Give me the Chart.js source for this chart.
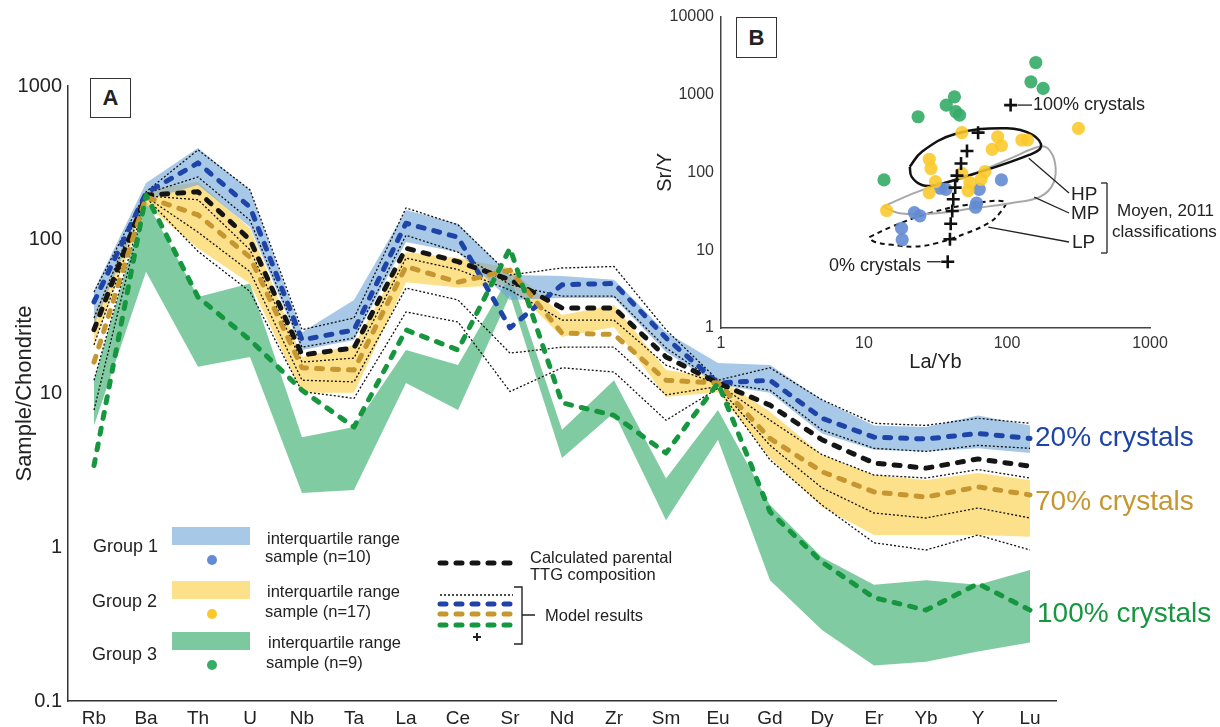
<!DOCTYPE html>
<html>
<head>
<meta charset="utf-8">
<title>Trace element patterns and Sr/Y vs La/Yb</title>
<script src="https://cdn.jsdelivr.net/npm/chart.js@4.4.1/dist/chart.umd.min.js"></script>
<style>
  body { margin: 0; background: #fff; }
  #wrap { position: relative; width: 1220px; height: 727px; overflow: hidden; font-family: "Liberation Sans", Arial, sans-serif; color: #222; }
  canvas { position: absolute; top: 0; }
  #main { left: 0; }
  #inset { left: 640px; }
  .lbl { position: absolute; white-space: nowrap; line-height: 1; transform: translateY(-50%); }
  .box { position: absolute; border: 1.5px solid #333; font-weight: bold; font-size: 22px; display: flex; align-items: center; justify-content: center; box-sizing: border-box; background: #fff; }
</style>
</head>
<body>
<div id="wrap">
  <canvas id="main" width="1220" height="727"></canvas>
  <canvas id="inset" width="580" height="380"></canvas>

  <div class="box" style="left:90px;top:78px;width:41px;height:40px;">A</div>
  <div class="box" style="left:736px;top:17px;width:41px;height:41px;">B</div>

  <div class="lbl" style="left:93px;top:546px;font-size:18px">Group 1</div>
  <div class="lbl" style="left:92px;top:601px;font-size:18px">Group 2</div>
  <div class="lbl" style="left:92px;top:654px;font-size:18px">Group 3</div>
  <div class="lbl" style="left:267px;top:538px;font-size:16.5px">interquartile range</div>
  <div class="lbl" style="left:265px;top:556px;font-size:16.5px">sample (n=10)</div>
  <div class="lbl" style="left:267px;top:591px;font-size:16.5px">interquartile range</div>
  <div class="lbl" style="left:265px;top:611px;font-size:16.5px">sample (n=17)</div>
  <div class="lbl" style="left:268px;top:642px;font-size:16.5px">interquartile range</div>
  <div class="lbl" style="left:266px;top:662px;font-size:16.5px">sample (n=9)</div>
  <div class="lbl" style="left:530px;top:557px;font-size:16.5px">Calculated parental</div>
  <div class="lbl" style="left:530px;top:574px;font-size:16.5px">TTG composition</div>
  <div class="lbl" style="left:545px;top:615px;font-size:16.5px">Model results</div>

  <div class="lbl" style="left:1035px;top:437px;font-size:28px;color:#1e44a8">20% crystals</div>
  <div class="lbl" style="left:1035px;top:501px;font-size:28px;color:#c69630">70% crystals</div>
  <div class="lbl" style="left:1037px;top:613px;font-size:28px;color:#16963f">100% crystals</div>

  <div class="lbl" style="left:1033px;top:104px;font-size:18px">100% crystals</div>
  <div class="lbl" style="left:829px;top:265px;font-size:18px">0% crystals</div>
  <div class="lbl" style="left:1071px;top:193px;font-size:19px">HP</div>
  <div class="lbl" style="left:1071px;top:212px;font-size:19px">MP</div>
  <div class="lbl" style="left:1072px;top:241px;font-size:19px">LP</div>
  <div class="lbl" style="left:1117px;top:210px;font-size:17px">Moyen, 2011</div>
  <div class="lbl" style="left:1112px;top:231px;font-size:17px">classifications</div>
</div>

<script>
const FONT = '"Liberation Sans", Arial, sans-serif';

// ---- panel A : chondrite-normalised patterns ----
const elements = ['Rb', 'Ba', 'Th', 'U', 'Nb', 'Ta', 'La', 'Ce', 'Sr', 'Nd', 'Zr', 'Sm', 'Eu', 'Gd', 'Dy', 'Er', 'Yb', 'Y', 'Lu'];
const yTickValues = [0.1, 1, 10, 100, 1000];

// interquartile ranges
const group1Upper = [47, 234, 395, 211, 25, 40.6, 156, 127, 59, 58, 55, 25, 15.8, 15.3, 9.1, 6.2, 6.05, 7.2, 6.2];
const group1Lower = [27.9, 181, 227, 121, 19.2, 22.3, 96.6, 83, 40.6, 41.8, 41.8, 18.6, 11.4, 10.1, 5.5, 4.3, 4.2, 4.4, 4.1];
const group2Upper = [32.4, 211, 238, 119, 17.3, 20.7, 83, 76, 65.5, 32.4, 37.7, 14.2, 12.6, 7.6, 4.0, 2.95, 2.74, 3.04, 2.74];
const group2Lower = [20.7, 168, 88, 52, 10.1, 10.1, 53, 49, 51, 23.3, 27.1, 9.5, 10.2, 3.8, 1.83, 1.2, 1.2, 1.2, 1.17];
const group3Upper = [12.2, 181, 42.4, 52, 5.2, 6.05, 19.2, 15.3, 59, 5.8, 12.2, 2.8, 7.8, 1.88, 0.86, 0.57, 0.61, 0.57, 0.71];
const group3Lower = [6.2, 62, 14.9, 17.3, 2.25, 2.36, 11.7, 7.8, 43.7, 3.8, 7.5, 1.5, 5.0, 0.61, 0.29, 0.17, 0.18, 0.21, 0.24];

// parental melt and model results
const parental = [26, 195, 205, 100, 17.8, 19.8, 88, 72, 55, 36, 36, 17.3, 11.7, 8.4, 5.0, 3.53, 3.27, 3.75, 3.37];
const crystals20 = [39.4, 201, 316, 163, 22.3, 25.9, 128, 104, 26.7, 51, 52, 23, 11.7, 12.2, 6.9, 5.2, 5.06, 5.5, 5.1];
const crystals70 = [16.0, 190, 145, 77, 14.7, 14.2, 67, 53, 63.5, 24.7, 24.2, 12.2, 11.7, 5.1, 3.1, 2.29, 2.12, 2.47, 2.19];
const crystals100 = [3.4, 195, 42.4, 22.3, 10.5, 6.05, 25.9, 19.2, 88, 8.7, 7.2, 4.1, 11.7, 1.7, 0.80, 0.47, 0.39, 0.58, 0.39];
const modelA = [45.7, 205, 384, 211, 26, 31, 161, 125, 59, 65.5, 67, 26, 12.2, 14.7, 9.1, 6.4, 6.2, 6.9, 6.4];
const modelB = [31, 200, 256, 134, 20, 23, 107, 83, 51, 43, 43, 19.8, 11.7, 10.5, 5.8, 4.4, 4.2, 4.6, 4.4];
const modelC = [20.7, 193, 182, 86, 16, 17, 76, 64, 47, 30, 30, 15.3, 11.5, 6.7, 4.0, 2.95, 2.82, 3.2, 2.82];
const modelD = [12.2, 190, 112, 62, 12.2, 11.9, 48.5, 40.6, 18.3, 20, 20, 9.8, 11.1, 4.6, 2.43, 1.67, 1.55, 1.80, 1.55];
const modelE = [7.8, 188, 84, 46, 10.3, 9.3, 33.9, 29.2, 10.3, 14.7, 13.8, 6.7, 10.8, 3.7, 1.88, 1.07, 0.96, 1.2, 0.96];

// ---- panel B : Sr/Y vs La/Yb ----
const logTicksX = [1, 10, 100, 1000];
const logTicksY = [1, 10, 100, 1000, 10000];
const group1LaYb = [91.4, 34.2, 37.4, 63.9, 61.3, 60.3, 22.5, 24.6, 18.3, 18.5];
const group1SrY = [79.8, 62.4, 60.5, 60.5, 40.1, 35.6, 30.4, 27.6, 19.1, 13.6];
const group2LaYb = [316, 48.3, 86, 91.4, 78.8, 127, 139, 28.6, 29.4, 48.3, 70, 65.9, 31.6, 55, 28.6, 53.5, 14.4];
const group2SrY = [367, 323, 286, 220, 197, 260, 260, 147, 112, 97, 102, 81.3, 75.9, 73.8, 54.8, 58.2, 32.3];
const group3LaYb = [159, 147, 179, 42.9, 37.6, 43.9, 46.6, 23.9, 13.8];
const group3SrY = [2570, 1453, 1194, 933, 730, 600, 543, 517, 79.8];
const modelLaYb = [38.5, 39.9, 40.4, 41.4, 42.1, 43.4, 44.7, 47.7, 52.5, 62.8, 106];
const modelSrY = [7.1, 13.8, 21.8, 31.9, 45.1, 63.6, 90.6, 130, 188, 323, 730];
const hpLaYb = [20.9, 25.4, 43.4, 100, 152, 173, 143, 58.5, 32.2, 25.4, 21.5, 20.9];
const hpSrY = [118, 184, 310, 367, 301, 213, 167, 95.2, 68.8, 68.8, 88, 118];
const mpLaYb = [13.6, 23.9, 58.5, 106, 166, 193, 217, 211, 171, 106, 58.5, 32.2, 17.7, 13.6];
const mpSrY = [36.3, 56.5, 97, 151, 213, 203, 130, 72.3, 48.8, 40.1, 34.5, 29.8, 29.8, 36.3];
const lpLaYb = [10.9, 15.7, 28.6, 51.9, 97, 88.8, 74.1, 51.9, 32.2, 22.5, 15.7, 11.7, 10.9];
const lpSrY = [14.7, 20.1, 29.8, 38.1, 42.1, 29.8, 22.2, 16.5, 12.3, 11.1, 11.7, 12.9, 14.7];

const BLUE = '#1e44a8', GOLD = '#c69630', GREEN = '#16963f', BLACK = '#151515';
const DOT1 = 'rgb(100,140,210)', DOT2 = 'rgb(250,200,40)', DOT3 = 'rgb(55,172,105)';
const DASH = [6, 10];

const pairs = (xs, ys) => xs.map((x, i) => ({ x, y: ys[i] }));

function dashedLine(label, data, color, order) {
  return { label, data, borderColor: color, borderWidth: 5, borderDash: DASH, borderCapStyle: 'round',
           borderJoinStyle: 'round', pointRadius: 0, fill: false, tension: 0, order };
}
function dottedLine(label, data) {
  return { label, data, borderColor: '#111', borderWidth: 1.3, borderDash: [2, 2], pointRadius: 0,
           fill: false, tension: 0, order: 10 };
}
function band(label, upper, lower, color, order) {
  return [
    { label: label + ' Q3', data: upper, borderColor: 'rgba(0,0,0,0)', borderWidth: 0, backgroundColor: color,
      fill: '+1', pointRadius: 0, tension: 0, order },
    { label: label + ' Q1', data: lower, borderColor: 'rgba(0,0,0,0)', borderWidth: 0,
      fill: false, pointRadius: 0, tension: 0, order }
  ];
}

// legend swatches of panel A
const legendSwatches = {
  id: 'legendSwatches',
  afterDraw(chart) {
    const ctx = chart.ctx;
    ctx.save();
    const rows = [['#a8c8e8', 527, DOT1], ['#fde08a', 581, DOT2], ['#7cc9a0', 632, DOT3]];
    rows.forEach(([fillCol, top, dot]) => {
      ctx.fillStyle = fillCol;
      ctx.fillRect(172, top, 78, 18);
      ctx.fillStyle = dot;
      ctx.beginPath();
      ctx.arc(212, top + 33, 5, 0, Math.PI * 2);
      ctx.fill();
    });
    const line = (y, color, width, dash) => {
      ctx.strokeStyle = color; ctx.lineWidth = width; ctx.setLineDash(dash);
      ctx.lineCap = width > 2 ? 'round' : 'butt';
      ctx.beginPath(); ctx.moveTo(440, y); ctx.lineTo(513, y); ctx.stroke();
    };
    line(563, BLACK, 5, DASH);
    line(595, '#111', 1.3, [2, 2]);
    line(604, BLUE, 5, DASH);
    line(614, GOLD, 5, DASH);
    line(625, GREEN, 5, DASH);
    ctx.setLineDash([]);
    ctx.lineCap = 'butt';
    ctx.strokeStyle = '#222';
    ctx.lineWidth = 2;
    ctx.beginPath(); ctx.moveTo(473, 637); ctx.lineTo(481, 637); ctx.moveTo(477, 633); ctx.lineTo(477, 641); ctx.stroke();
    ctx.lineWidth = 1.4;
    ctx.beginPath();
    ctx.moveTo(514, 587); ctx.lineTo(522, 587); ctx.lineTo(522, 644); ctx.lineTo(514, 644);
    ctx.moveTo(522, 615); ctx.lineTo(535, 615);
    ctx.stroke();
    ctx.restore();
  }
};

new Chart(document.getElementById('main'), {
  type: 'line',
  data: {
    labels: elements,
    datasets: [
      dashedLine('100% crystals', crystals100, GREEN, 1),
      dashedLine('70% crystals', crystals70, GOLD, 2),
      dashedLine('Calculated parental TTG composition', parental, BLACK, 3),
      dashedLine('20% crystals', crystals20, BLUE, 4),
      dottedLine('Model A', modelA),
      dottedLine('Model B', modelB),
      dottedLine('Model C', modelC),
      dottedLine('Model D', modelD),
      dottedLine('Model E', modelE),
      ...band('Group 1', group1Upper, group1Lower, 'rgba(110,163,217,0.6)', 21),
      ...band('Group 2', group2Upper, group2Lower, 'rgba(252,212,88,0.7)', 22),
      ...band('Group 3', group3Upper, group3Lower, 'rgba(60,175,110,0.65)', 23)
    ]
  },
  options: {
    responsive: false,
    animation: false,
    events: [],
    layout: { padding: { left: 0, right: 164, top: 86, bottom: 0 } },
    plugins: { legend: { display: false }, tooltip: { enabled: false } },
    scales: {
      x: {
        type: 'category',
        offset: true,
        grid: { display: false, drawTicks: false },
        border: { display: true, color: '#333', width: 1.5 },
        ticks: { autoSkip: false, maxRotation: 0, padding: 6, color: '#222', font: { family: FONT, size: 19 } },
        afterFit: s => { s.height = 26; }
      },
      y: {
        type: 'logarithmic',
        min: 0.1,
        max: 1000,
        grid: { display: false, drawTicks: false },
        border: { display: true, color: '#333', width: 1.5 },
        ticks: { padding: 6, color: '#222', font: { family: FONT, size: 20 }, callback: v => String(v) },
        afterBuildTicks: s => { s.ticks = yTickValues.map(v => ({ value: v })); },
        afterFit: s => { s.width = 68; },
        title: { display: true, text: 'Sample/Chondrite', color: '#222', font: { family: FONT, size: 22 }, padding: { top: 12, bottom: 0 } }
      }
    }
  },
  plugins: [legendSwatches]
});

// leader lines and bracket of panel B
const insetNotes = {
  id: 'insetNotes',
  afterDatasetsDraw(chart) {
    const { ctx, scales: { x, y } } = chart;
    ctx.save();
    ctx.strokeStyle = '#222';
    ctx.lineWidth = 1.3;
    const seg = (x1, y1, x2, y2) => { ctx.beginPath(); ctx.moveTo(x1, y1); ctx.lineTo(x2, y2); ctx.stroke(); };
    seg(x.getPixelForValue(142), y.getPixelForValue(151), 429, 193);
    seg(x.getPixelForValue(155), y.getPixelForValue(48), 429, 213);
    seg(x.getPixelForValue(74), y.getPixelForValue(19.7), 429, 242);
    seg(461, 183, 467, 183); seg(467, 183, 467, 253); seg(467, 253, 461, 253);
    const last = modelLaYb.length - 1;
    const yTop = y.getPixelForValue(modelSrY[last]);
    seg(x.getPixelForValue(modelLaYb[last]) + 7, yTop, 392, yTop);
    const yBot = y.getPixelForValue(modelSrY[0]);
    seg(287, yBot, x.getPixelForValue(modelLaYb[0]) - 7, yBot);
    ctx.restore();
  }
};

function pointSet(label, xs, ys, color, order) {
  return { label, data: pairs(xs, ys), showLine: false, pointRadius: 6.6, pointBackgroundColor: color,
           pointBorderColor: 'rgba(0,0,0,0)', pointBorderWidth: 0, order };
}
function outline(label, xs, ys, color, width, dash, order) {
  return { label, data: pairs(xs, ys), showLine: true, pointRadius: 0, borderColor: color, borderWidth: width,
           borderDash: dash, tension: 0.4, fill: false, order };
}

new Chart(document.getElementById('inset'), {
  type: 'scatter',
  data: {
    datasets: [
      { label: 'Model results', data: pairs(modelLaYb, modelSrY), showLine: false, pointStyle: 'cross',
        pointRadius: 6.5, pointBorderColor: '#111', pointBorderWidth: 2.6, order: 0 },
      pointSet('Group 3', group3LaYb, group3SrY, 'rgba(55,172,105,0.92)', 1),
      pointSet('Group 2', group2LaYb, group2SrY, 'rgba(252,200,40,0.88)', 2),
      pointSet('Group 1', group1LaYb, group1SrY, 'rgba(100,140,210,0.9)', 3),
      outline('HP', hpLaYb, hpSrY, '#111', 2.5, [], 5),
      outline('MP', mpLaYb, mpSrY, '#a8a8a8', 2, [], 6),
      outline('LP', lpLaYb, lpSrY, '#111', 2, [5, 4], 7)
    ]
  },
  options: {
    responsive: false,
    animation: false,
    events: [],
    layout: { padding: { left: 0, right: 70, top: 16, bottom: 0 } },
    plugins: { legend: { display: false }, tooltip: { enabled: false } },
    scales: {
      x: {
        type: 'logarithmic',
        min: 1,
        max: 1000,
        grid: { display: false, drawTicks: false },
        border: { display: true, color: '#444', width: 1.5 },
        ticks: { padding: 6, color: '#333', font: { family: FONT, size: 16 }, callback: v => String(v) },
        afterBuildTicks: s => { s.ticks = logTicksX.map(v => ({ value: v })); },
        afterFit: s => { s.height = 52; },
        title: { display: true, text: 'La/Yb', color: '#222', font: { family: FONT, size: 20 }, padding: { top: 0, bottom: 6 } }
      },
      y: {
        type: 'logarithmic',
        min: 1,
        max: 10000,
        grid: { display: false, drawTicks: false },
        border: { display: true, color: '#444', width: 1.5 },
        ticks: { padding: 7, color: '#333', font: { family: FONT, size: 16 }, callback: v => String(v) },
        afterBuildTicks: s => { s.ticks = logTicksY.map(v => ({ value: v })); },
        afterFit: s => { s.width = 81; },
        title: { display: true, text: 'Sr/Y', color: '#222', font: { family: FONT, size: 20 }, padding: { top: 13, bottom: 0 } }
      }
    }
  },
  plugins: [insetNotes]
});
</script>
</body>
</html>
